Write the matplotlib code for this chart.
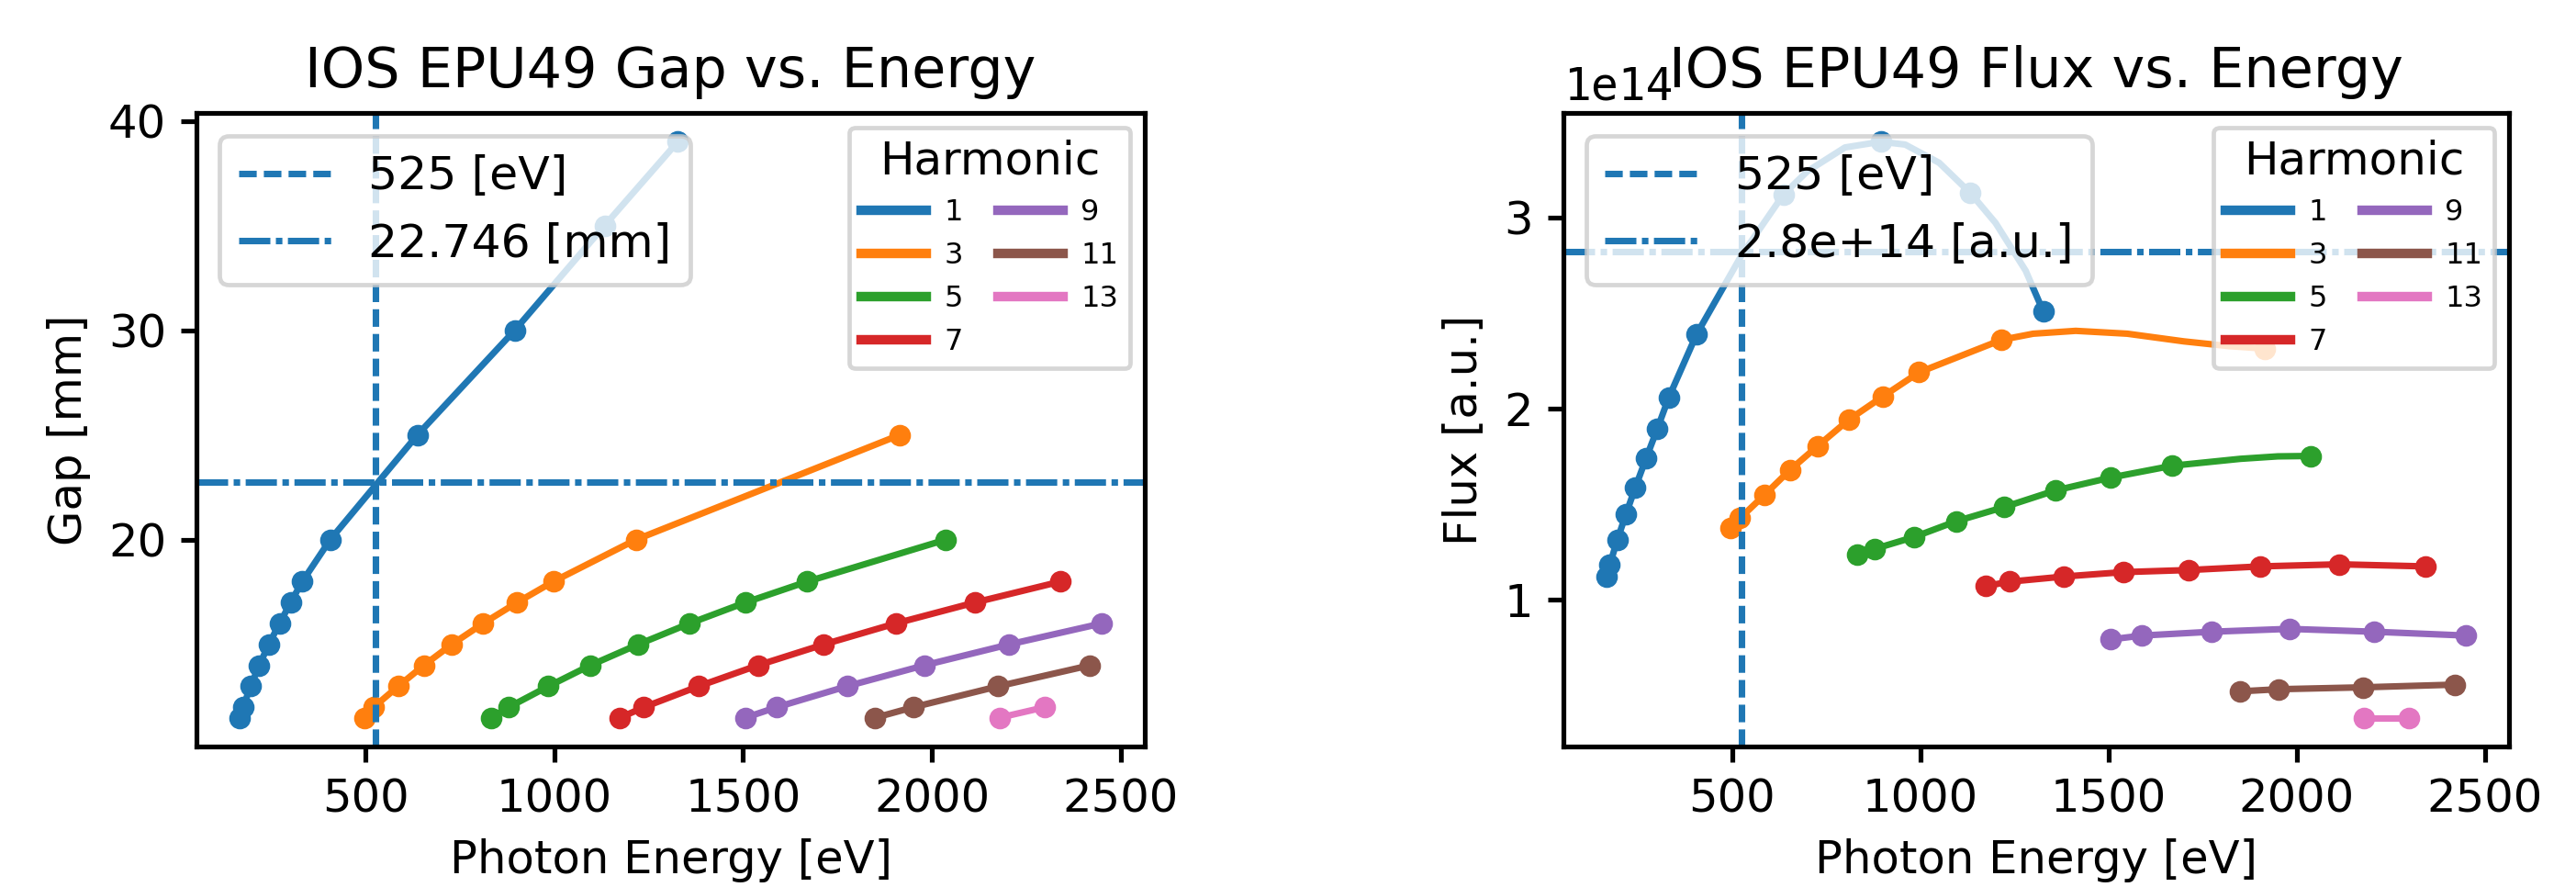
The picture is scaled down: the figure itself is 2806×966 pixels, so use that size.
import numpy as np
import matplotlib
matplotlib.use('Agg')
import matplotlib.pyplot as plt
from matplotlib.lines import Line2D

# harmonic numbers and their colours (tab10 order)
harmonics = [1, 3, 5, 7, 9, 11, 13]

# photon energy [eV] of each calculated point
e1 = [166, 175, 195, 218, 243, 272, 301, 332, 406, 637, 895, 1133, 1327]
e3 = [497, 521, 586, 654, 728, 811, 901, 997, 1216, 1915]
e5 = [833, 879, 984, 1095, 1222, 1358, 1506, 1670, 2037]
e7 = [1174, 1237, 1382, 1539, 1714, 1904, 2114, 2341]
e9 = [1506, 1589, 1775, 1980, 2205, 2450]
e11 = [1850, 1951, 2176, 2419]
e13 = [2179, 2299]

# gap [mm]
gap1 = [11.5, 12, 13, 14, 15, 16, 17, 18, 20, 25, 30, 35, 39]
gap3 = [11.5, 12, 13, 14, 15, 16, 17, 18, 20, 25]
gap5 = [11.5, 12, 13, 14, 15, 16, 17, 18, 20]
gap7 = [11.5, 12, 13, 14, 15, 16, 17, 18]
gap9 = [11.5, 12, 13, 14, 15, 16]
gap11 = [11.5, 12, 13, 14]
gap13 = [11.5, 12]

# flux [1e14 a.u.]
flux1 = [1.12, 1.18, 1.31, 1.445, 1.585, 1.74, 1.89, 2.057, 2.388, 3.12, 3.395, 3.127, 2.506]
flux3 = [1.374, 1.424, 1.546, 1.677, 1.803, 1.941, 2.062, 2.188, 2.358, 2.312]
flux5 = [1.234, 1.264, 1.326, 1.408, 1.482, 1.569, 1.637, 1.699, 1.750]
flux7 = [1.069, 1.092, 1.119, 1.142, 1.153, 1.172, 1.183, 1.172]
flux9 = [0.79, 0.81, 0.83, 0.845, 0.83, 0.81]
flux11 = [0.518, 0.529, 0.539, 0.553]
flux13 = [0.38, 0.38]

curve1_e = [525, 700, 800, 960, 1050, 1200, 1280]
curve1_f = [2.80, 3.24, 3.365, 3.38, 3.285, 2.97, 2.72]
curve3_e = [1300, 1413, 1550, 1700, 1820]
curve3_f = [2.39, 2.405, 2.39, 2.35, 2.325]
curve5_e = [1850, 1950]
curve5_f = [1.735, 1.748]

sel_energy = 525
sel_gap = 22.746
sel_flux = 2.82e14

energies = [e1, e3, e5, e7, e9, e11, e13]
gaps = [gap1, gap3, gap5, gap7, gap9, gap11, gap13]
fluxes = [flux1, flux3, flux5, flux7, flux9, flux11, flux13]
curves = {0: (curve1_e, curve1_f), 1: (curve3_e, curve3_f), 2: (curve5_e, curve5_f)}

plt.rcParams['font.size'] = 10.5
plt.rcParams['axes.linewidth'] = 1.1
plt.rcParams['xtick.major.width'] = 1.1
plt.rcParams['ytick.major.width'] = 1.1

dash = (0, (2.7, 1.1))
dashdot = (0, (4.8, 0.85, 1.0, 0.85))

fig = plt.figure(figsize=(2806 / 340, 966 / 340), dpi=340)
ax1 = fig.add_axes([0.0763, 0.1584, 0.3681, 0.7143])
ax2 = fig.add_axes([0.6069, 0.1584, 0.3671, 0.7143])

for i, h in enumerate(harmonics):
    c = 'C%d' % i
    ax1.plot(energies[i], gaps[i], '-o', color=c, lw=1.5, ms=4)

    e = np.array(energies[i], dtype=float)
    f = np.array(fluxes[i], dtype=float)
    if i in curves:
        ce, cf = curves[i]
        e_line = np.concatenate([e, ce])
        f_line = np.concatenate([f, cf])
        order = np.argsort(e_line)
        e_line, f_line = e_line[order], f_line[order]
    else:
        e_line, f_line = e, f
    ax2.plot(e_line, f_line * 1e14, '-', color=c, lw=1.5)
    ax2.plot(e, f * 1e14, 'o', color=c, ms=4)

harm_handles = [Line2D([0], [0], color='C%d' % i, lw=2.2) for i in range(len(harmonics))]
harm_labels = [str(h) for h in harmonics]
harm_kw = dict(title='Harmonic', ncol=2, loc='upper right', fontsize=6.8,
               title_fontsize=10.6, handlelength=2.2, handletextpad=0.6,
               columnspacing=1.2)

# gap panel
v1 = ax1.axvline(sel_energy, ls=dash, lw=1.5, color='C0', label='%d [eV]' % sel_energy)
h1 = ax1.axhline(sel_gap, ls=dashdot, lw=1.5, color='C0', label='%.3f [mm]' % sel_gap)
leg = ax1.legend(handles=[v1, h1], loc='upper left', fontsize=10.7)
ax1.add_artist(leg)
ax1.legend(harm_handles, harm_labels, **harm_kw)
ax1.set_title('IOS EPU49 Gap vs. Energy', fontsize=12.8, y=1.0, pad=6)
ax1.set_xlabel('Photon Energy [eV]')
ax1.set_ylabel('Gap [mm]')
ax1.set_xticks([500, 1000, 1500, 2000, 2500])
ax1.set_yticks([20, 30, 40])

# flux panel
v2 = ax2.axvline(sel_energy, ls=dash, lw=1.5, color='C0', label='%d [eV]' % sel_energy)
h2 = ax2.axhline(sel_flux, ls=dashdot, lw=1.5, color='C0', label='%.2g [a.u.]' % sel_flux)
leg = ax2.legend(handles=[v2, h2], loc='upper left', fontsize=10.7)
ax2.add_artist(leg)
ax2.legend(harm_handles, harm_labels, **harm_kw)
ax2.set_title('IOS EPU49 Flux vs. Energy', fontsize=12.8, y=1.0, pad=6)
ax2.set_xlabel('Photon Energy [eV]')
ax2.set_ylabel('Flux [a.u.]')
ax2.set_xticks([500, 1000, 1500, 2000, 2500])
ax2.set_yticks([1e14, 2e14, 3e14])
ax2.yaxis.get_offset_text().set_family('DejaVu Sans Mono')

fig.savefig('out.png', dpi=340)
